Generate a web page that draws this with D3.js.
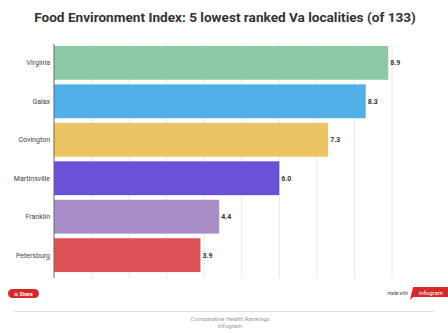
<!DOCTYPE html>
<html><head><meta charset="utf-8">
<script src="https://cdn.jsdelivr.net/npm/d3@7"></script>
<style>html,body{margin:0;padding:0;background:#fff;}svg{display:block;}</style>
</head><body>
<svg id="c" width="448" height="333"></svg>
<script>
const title = "Food Environment Index: 5 lowest ranked Va localities (of 133)";
const categories = ["Virginia","Galax","Covington","Martinsville","Franklin","Petersburg"];
const values = [8.9, 8.3, 7.3, 6.0, 4.4, 3.9];
const colors = ["#8ec9a6","#52b0e8","#ebc563","#6b51d8","#a98dc9","#dd5257"];
const ticks = [0,1,2,3,4,5,6,7,8,9];
const sourceLines = ["Comparative Health Rankings","Infogram"];

const svg = d3.select("#c");
const m = {l:54, r:56, t:44, b:55};
const x = d3.scaleLinear().domain([0,9]).range([m.l, 392]);
const y = d3.scaleBand().domain(categories).range([44, 274]).paddingInner(0.12).paddingOuter(0.05);

svg.append("text").attr("x",225).attr("y",22).attr("text-anchor","middle")
  .attr("font-family","Roboto, sans-serif").attr("font-weight","bold").attr("font-size",13.6)
  .attr("fill","#333").text(title);

// gridlines
svg.append("g").selectAll("line").data(ticks.slice(1)).join("line")
  .attr("x1",d=>x(d)).attr("x2",d=>x(d)).attr("y1",44).attr("y2",278)
  .attr("stroke","#e8e8e8").attr("stroke-width",1);

svg.append("g").selectAll("rect").data(values).join("rect")
  .attr("x",x(0)).attr("y",(d,i)=>y(categories[i]))
  .attr("width",d=>x(d)-x(0)).attr("height",y.bandwidth())
  .attr("fill",(d,i)=>colors[i]);

// axis line
svg.append("line").attr("x1",x(0)).attr("x2",x(0)).attr("y1",44).attr("y2",278)
  .attr("stroke","#666").attr("stroke-width",1);

svg.append("g").selectAll("text").data(categories).join("text")
  .attr("x",50).attr("y",d=>y(d)+y.bandwidth()/2).attr("dy","0.35em")
  .attr("text-anchor","end").attr("font-family","Roboto, sans-serif").attr("font-size",7)
  .attr("fill","#444").text(d=>d);

svg.append("g").selectAll("text").data(values).join("text")
  .attr("x",d=>x(d)+2).attr("y",(d,i)=>y(categories[i])+y.bandwidth()/2).attr("dy","0.35em")
  .attr("font-family","Roboto, sans-serif").attr("font-size",7).attr("font-weight","bold")
  .attr("fill","#333").text(d=>d.toFixed(1));

// share button
svg.append("rect").attr("x",8).attr("y",289).attr("width",31).attr("height",9).attr("rx",4.5)
  .attr("fill","#d42a2a");
svg.append("text").attr("x",23.5).attr("y",295.5).attr("text-anchor","middle")
  .attr("font-family","Roboto, sans-serif").attr("font-size",5).attr("font-weight","bold")
  .attr("fill","#fff").text("\u2299 Share");

// made with infogram
svg.append("text").attr("x",408).attr("y",295).attr("text-anchor","end")
  .attr("font-family","Roboto, sans-serif").attr("font-size",4.5).attr("fill","#444").text("made with");
svg.append("path").attr("d","M413,287 L448,287 L448,297 L413,297 L410,300 Z").attr("fill","#d42a2a");
svg.append("text").attr("x",431).attr("y",294.5).attr("text-anchor","middle")
  .attr("font-family","Roboto, sans-serif").attr("font-size",6).attr("fill","#fff").text("infogram");

svg.append("line").attr("x1",14).attr("x2",434).attr("y1",311.5).attr("y2",311.5)
  .attr("stroke","#e3e3e3");
svg.append("g").selectAll("text").data(sourceLines).join("text")
  .attr("x",230).attr("y",(d,i)=>321+i*7).attr("text-anchor","middle")
  .attr("font-family","Roboto, sans-serif").attr("font-size",6).attr("fill","#999").text(d=>d);
</script>
</body></html>
